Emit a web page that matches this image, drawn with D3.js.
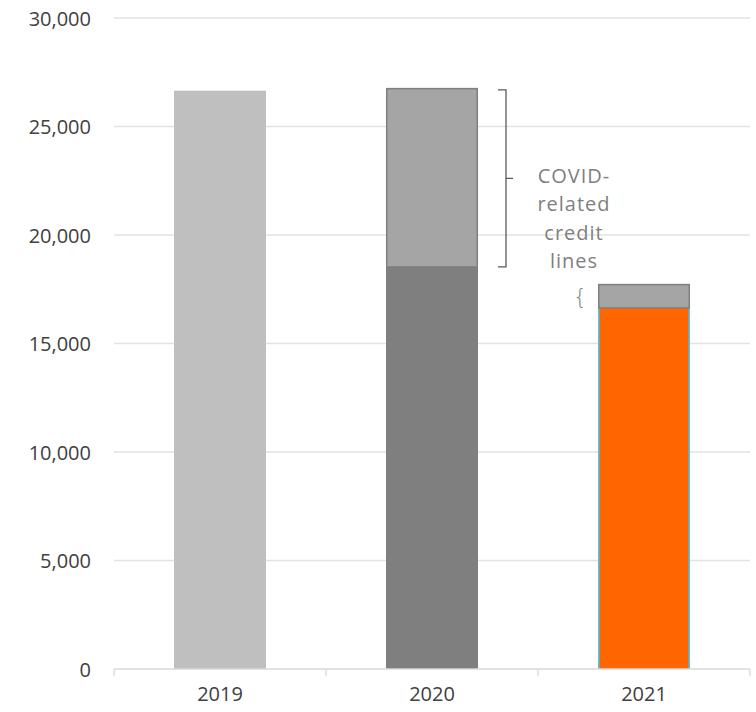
<!DOCTYPE html>
<html><head><meta charset="utf-8">
<script src="https://cdn.jsdelivr.net/npm/d3@7"></script>
<style>body{margin:0;background:#fff}svg{display:block}</style>
</head><body>
<svg id="c" width="756" height="712"></svg>
<script>
const categories = ["2019", "2020", "2021"];
const baseValues = [26650, 18530, 16640];
const covidValues = [0, 8250, 1110];
const baseColors = ["#bfbfbf", "#7f7f7f", "#ff6600"];
const yTicks = [0, 5000, 10000, 15000, 20000, 25000, 30000];
const noteLines = ["COVID-", "related", "credit", "lines"];

const svg = d3.select("#c");
const x = d3.scaleBand().domain(categories).range([114, 750]).paddingInner(0.566).paddingOuter(0.283);
const y = d3.scaleLinear().domain([0, 30000]).range([669, 18]);
const font = "'Open Sans', 'Liberation Sans', sans-serif";

// gridlines
svg.append("g").selectAll("line").data(yTicks.slice(1)).join("line")
  .attr("x1", 114).attr("x2", 750).attr("y1", d => y(d)).attr("y2", d => y(d))
  .attr("stroke", "#e3e3e3").attr("stroke-width", 1.3);

// y labels
const yAxis = d3.axisLeft(y).tickValues(yTicks).tickSize(0).tickPadding(0).tickFormat(d3.format(","));
const ya = svg.append("g").attr("transform", "translate(91,0)").call(yAxis);
ya.select(".domain").remove();
ya.selectAll("text").attr("font-family", font).attr("font-size", 20).attr("fill", "#404040").attr("dy", "0.36em");

// bars base
const bw = x.bandwidth();
svg.append("g").selectAll("rect").data(categories).join("rect")
  .attr("x", d => x(d)).attr("width", bw)
  .attr("y", (d, i) => y(baseValues[i])).attr("height", (d, i) => y(0) - y(baseValues[i]))
  .attr("fill", (d, i) => baseColors[i]);
// orange bar light-blue side borders
const i21 = 2;
svg.append("g").selectAll("line").data([0, 1]).join("line")
  .attr("x1", k => x(categories[i21]) + 0.8 + k * (bw - 1.6))
  .attr("x2", k => x(categories[i21]) + 0.8 + k * (bw - 1.6))
  .attr("y1", y(baseValues[i21])).attr("y2", y(0))
  .attr("stroke", "#4fc1e9").attr("stroke-width", 1.6);

// covid bars
svg.append("g").selectAll("rect").data(categories.filter((d, i) => covidValues[i] > 0)).join("rect")
  .attr("x", d => x(d) + 0.75).attr("width", bw - 1.5)
  .attr("y", d => { const i = categories.indexOf(d); return y(baseValues[i] + covidValues[i]) + 0.75; })
  .attr("height", d => { const i = categories.indexOf(d); return y(baseValues[i]) - y(baseValues[i] + covidValues[i]) - 0.75; })
  .attr("fill", "#a5a5a5").attr("stroke", "#7f7f7f").attr("stroke-width", 1.5);

// x axis
const xa = svg.append("g").attr("transform", "translate(0,669)");
xa.append("line").attr("x1", 114).attr("x2", 750).attr("stroke", "#d9d9d9").attr("stroke-width", 1.3);
const tickXs = [114].concat(categories.map(d => x(d) + bw + x.step() * 0.283));
xa.selectAll("line.t").data(tickXs).join("line").attr("class", "t")
  .attr("x1", d => d).attr("x2", d => d).attr("y1", 0).attr("y2", 7)
  .attr("stroke", "#d9d9d9").attr("stroke-width", 1.3);
xa.selectAll("text").data(categories).join("text")
  .attr("x", d => x(d) + bw / 2).attr("y", 32).attr("text-anchor", "middle")
  .attr("font-family", font).attr("font-size", 20).attr("fill", "#404040").text(d => d);

// big bracket for 2020
const i20 = 1;
const bTop = y(baseValues[i20] + covidValues[i20]) + 2, bBot = y(baseValues[i20]);
const bx = 506, bMid = (bTop + bBot) / 2;
svg.append("path")
  .attr("d", `M${bx - 8},${bTop} H${bx} V${bBot} H${bx - 8} M${bx},${bMid} H${bx + 7}`)
  .attr("fill", "none").attr("stroke", "#595959").attr("stroke-width", 1.3);

// note text
svg.append("g").selectAll("text").data(noteLines).join("text")
  .attr("x", 574).attr("y", (d, i) => 183 + i * 28.3).attr("text-anchor", "middle")
  .attr("font-family", font).attr("font-size", 20).attr("letter-spacing", 1).attr("fill", "#7f7f7f").text(d => d);

// small brace for 2021
const sTop = y(baseValues[i21] + covidValues[i21]), sBot = y(baseValues[i21]);
svg.append("text").attr("x", 580).attr("y", (sTop + sBot) / 2 + 8).attr("text-anchor", "middle")
  .attr("font-family", "'DejaVu Sans', sans-serif").attr("font-weight", 300).attr("font-size", 22).attr("fill", "#7f7f7f").text("{");
</script>
</body></html>
